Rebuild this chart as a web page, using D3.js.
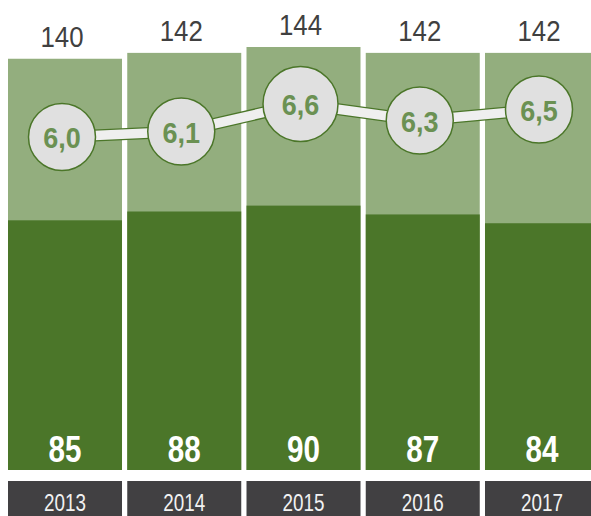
<!DOCTYPE html>
<html>
<head>
<meta charset="utf-8">
<script src="https://cdn.jsdelivr.net/npm/d3@7"></script>
<style>
  body { margin: 0; background: #fff; }
  svg text { font-family: "Liberation Sans", Arial, sans-serif; }
</style>
</head>
<body>
<div id="chart"></div>
<script>
// chart values
var years = ["2013", "2014", "2015", "2016", "2017"];
var totals = [140, 142, 144, 142, 142];
var parts = [85, 88, 90, 87, 84];
var rates = [6.0, 6.1, 6.6, 6.3, 6.5];
var rateLabels = ["6,0", "6,1", "6,6", "6,3", "6,5"];

var svgWidth = 591;
var svgHeight = 516;

var svg = d3.select("#chart").append("svg")
  .attr("width", svgWidth)
  .attr("height", svgHeight);

// scales
var xScale = d3.scaleBand()
  .domain(years)
  .range([8, 599])
  .paddingInner(0.044)
  .paddingOuter(0);

var yScale = d3.scaleLinear()
  .domain([0, 144])
  .range([470, 47]);

var rateScale = d3.scaleLinear()
  .domain([6.0, 6.6])
  .range([137, 104]);

var data = years.map(function(y, i) {
  return { year: y, total: totals[i], part: parts[i], rate: rates[i], label: rateLabels[i] };
});

var bw = xScale.bandwidth();
var shift = -3; // top labels and markers sit slightly left of the bar centre

// narrow text: no condensed font installed, so squeeze horizontally
function place(x, y, sx) {
  return `translate(${x}, ${y}) scale(${sx}, 1)`;
}

// light (total) bars
svg.selectAll(".total")
  .data(data)
  .enter()
  .append("rect")
  .attr("x", d => xScale(d.year))
  .attr("y", d => yScale(d.total))
  .attr("width", bw)
  .attr("height", d => yScale(0) - yScale(d.total))
  .attr("fill", "#93ae7e");

// dark bars
svg.selectAll(".part")
  .data(data)
  .enter()
  .append("rect")
  .attr("x", d => xScale(d.year))
  .attr("y", d => yScale(d.part))
  .attr("width", bw)
  .attr("height", d => yScale(0) - yScale(d.part))
  .attr("fill", "#4b7629");

// totals above bars
svg.selectAll(".totalLabel")
  .data(data)
  .enter()
  .append("text")
  .attr("transform", d => place(xScale(d.year) + bw / 2 + shift, yScale(d.total) - 12, 0.86))
  .attr("text-anchor", "middle")
  .attr("font-size", "30px")
  .attr("fill", "#404040")
  .text(d => d.total);

// values inside dark bars
svg.selectAll(".partLabel")
  .data(data)
  .enter()
  .append("text")
  .attr("transform", d => place(xScale(d.year) + bw / 2, yScale(0) - 8, 0.8))
  .attr("text-anchor", "middle")
  .attr("font-size", "37px")
  .attr("font-weight", "bold")
  .attr("fill", "#ffffff")
  .text(d => d.part);

// year boxes
svg.selectAll(".yearBox")
  .data(data)
  .enter()
  .append("rect")
  .attr("x", d => xScale(d.year))
  .attr("y", 481)
  .attr("width", bw)
  .attr("height", 40)
  .attr("fill", "#414042");

svg.selectAll(".yearLabel")
  .data(data)
  .enter()
  .append("text")
  .attr("transform", d => place(xScale(d.year) + bw / 2, 511, 0.82))
  .attr("text-anchor", "middle")
  .attr("font-size", "23px")
  .attr("fill", "#f2f2f2")
  .text(d => d.year);

// rate line: green outline under a light band
var line = d3.line()
  .x(d => xScale(d.year) + bw / 2 + shift)
  .y(d => rateScale(d.rate));

svg.append("path")
  .datum(data)
  .attr("d", line)
  .attr("fill", "none")
  .attr("stroke", "#4b7629")
  .attr("stroke-width", 12);

svg.append("path")
  .datum(data)
  .attr("d", line)
  .attr("fill", "none")
  .attr("stroke", "#efefef")
  .attr("stroke-width", 9.5);

var maxRate = d3.max(rates);

svg.selectAll(".marker")
  .data(data)
  .enter()
  .append("circle")
  .attr("cx", d => xScale(d.year) + bw / 2 + shift)
  .attr("cy", d => rateScale(d.rate))
  .attr("r", d => d.rate === maxRate ? 37.5 : 33.5)
  .attr("fill", "#e0e0e0")
  .attr("stroke", "#4b7629")
  .attr("stroke-width", 1.5);

svg.selectAll(".rateLabel")
  .data(data)
  .enter()
  .append("text")
  .attr("transform", d => place(xScale(d.year) + bw / 2 + shift, rateScale(d.rate) + 11, 0.9))
  .attr("text-anchor", "middle")
  .attr("font-size", "30px")
  .attr("font-weight", "bold")
  .attr("fill", "#6b9153")
  .text(d => d.label);
</script>
</body>
</html>
